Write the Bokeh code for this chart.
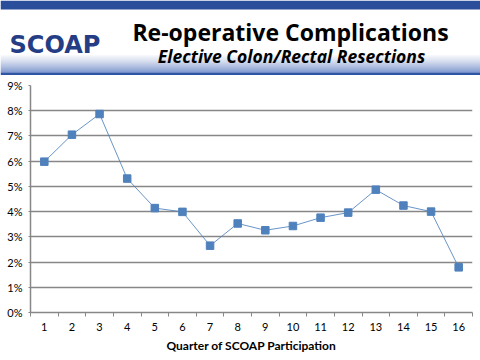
from bokeh.plotting import figure
from bokeh.models import Range1d, FixedTicker, NumeralTickFormatter, ColumnDataSource
from bokeh.core.properties import value
from bokeh.embed import file_html
from bokeh.resources import INLINE

# ---- data ----
quarters = ["1", "2", "3", "4", "5", "6", "7", "8", "9", "10", "11", "12", "13", "14", "15", "16"]
rates = [0.0598, 0.0705, 0.0787, 0.0531, 0.0414, 0.0399, 0.0265, 0.0353, 0.0326, 0.0343,
         0.0376, 0.0396, 0.0487, 0.0424, 0.0400, 0.0179]
y_ticks = [0.0, 0.01, 0.02, 0.03, 0.04, 0.05, 0.06, 0.07, 0.08, 0.09]
title_text = "Re-operative Complications"
subtitle_text = "Elective Colon/Rectal Resections"
logo_text = "SCOAP"
x_label = "Quarter of SCOAP Participation"

FONT = "Lato"
BLUE = "#4F81BD"
GRID = "#878787"

# ---- header ----
h = figure(width=480, height=75, x_range=Range1d(0, 480), y_range=Range1d(75, 0),
           output_backend="svg", toolbar_location=None, min_border=0,
           x_axis_location=None, y_axis_location=None)
h.grid.visible = False
h.outline_line_color = None
h.background_fill_color = "white"

# top bar
h.quad(left=[0], right=[480], top=[0], bottom=[9], color="#2B4E9B", line_color=None)
# gradient band
n = 17
y0, y1 = 55.0, 72.0
tops, bots, cols = [], [], []
for i in range(n):
    t = (i / (n - 1)) ** 1.2
    r = int(240 + (95 - 240) * t)
    g = int(242 + (125 - 242) * t)
    b = int(248 + (195 - 248) * t)
    tops.append(y0 + (y1 - y0) * i / n)
    bots.append(y0 + (y1 - y0) * (i + 1) / n)
    cols.append("#%02x%02x%02x" % (r, g, b))
h.quad(left=[0] * n, right=[480] * n, top=tops, bottom=bots, color=cols, line_color=None)
h.quad(left=[0], right=[480], top=[72], bottom=[75], color="#2F56A5", line_color=None)

h.text(x=[9], y=[44], text=[logo_text], text_font=value("DejaVu Sans"), text_font_style="bold",
       text_font_size="24px", text_color="#243D85", text_baseline="alphabetic", text_align="left")
h.text(x=[290], y=[31], text=[title_text], text_font=value("Open Sans"), text_font_style="bold",
       text_font_size="23px", text_color="black", text_baseline="alphabetic", text_align="center")
h.text(x=[291], y=[55], text=[subtitle_text], text_font=value("Open Sans"), text_font_style="bold italic",
       text_font_size="17.5px", text_color="black", text_baseline="alphabetic", text_align="center")

# ---- chart ----
xs = list(range(1, len(quarters) + 1))
src = ColumnDataSource(dict(x=xs, y=rates))

p = figure(width=480, height=280, x_range=Range1d(0.5, len(quarters) + 0.5),
           y_range=Range1d(0, 0.09), output_backend="svg", toolbar_location=None,
           min_border_left=30, min_border_right=8, min_border_top=10, min_border_bottom=40)
p.outline_line_color = None
p.background_fill_color = "white"

p.line("x", "y", source=src, line_color=BLUE, line_width=1, line_alpha=0.85)
p.scatter("x", "y", source=src, marker="square", size=7.5, fill_color=BLUE, line_color=BLUE)

p.xgrid.visible = False
p.ygrid.ticker = FixedTicker(ticks=y_ticks)
p.ygrid.grid_line_color = GRID
p.ygrid.grid_line_width = 1.5

# x axis
p.xaxis.ticker = FixedTicker(ticks=xs, minor_ticks=[i + 0.5 for i in range(len(quarters) + 1)])
p.xaxis.major_label_overrides = {x: q for x, q in zip(xs, quarters)}
p.xaxis.major_tick_out = 0
p.xaxis.major_tick_in = 0
p.xaxis.minor_tick_out = 4
p.xaxis.minor_tick_in = 0
p.xaxis.minor_tick_line_color = GRID
p.xaxis.axis_line_color = GRID
p.xaxis.axis_line_width = 1.5
p.xaxis.major_label_standoff = 6
p.xaxis.major_label_text_font = FONT
p.xaxis.major_label_text_font_size = "11px"
p.xaxis.major_label_text_color = "black"
p.xaxis.axis_label = x_label
p.xaxis.axis_label_text_font = FONT
p.xaxis.axis_label_text_font_style = "bold"
p.xaxis.axis_label_text_font_size = "12px"
p.xaxis.axis_label_text_color = "black"
p.xaxis.axis_label_standoff = 4

# y axis
p.yaxis.ticker = FixedTicker(ticks=y_ticks)
p.yaxis.formatter = NumeralTickFormatter(format="0%")
p.yaxis.major_tick_out = 2
p.yaxis.major_tick_in = 0
p.yaxis.minor_tick_line_color = None
p.yaxis.major_tick_line_color = GRID
p.yaxis.axis_line_color = GRID
p.yaxis.axis_line_width = 1.5
p.yaxis.major_label_standoff = 6
p.yaxis.major_label_text_font = FONT
p.yaxis.major_label_text_font_size = "11px"
p.yaxis.major_label_text_color = "black"

open("out.html", "w").write(file_html([h, p], INLINE))
